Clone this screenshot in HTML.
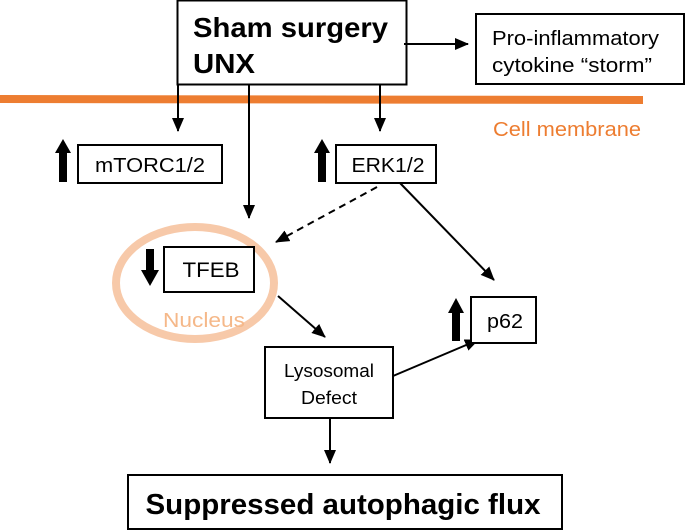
<!DOCTYPE html>
<html><head><style>
body{margin:0;background:#fff;}
svg{display:block;font-family:"Liberation Sans",Arial,sans-serif;}
</style></head><body>
<svg width="685" height="530" viewBox="0 0 685 530">
<defs>
<marker id="b" markerWidth="14" markerHeight="12" refX="13" refY="6" orient="auto" markerUnits="userSpaceOnUse"><path d="M0,0 L14,6 L0,12 z" fill="#000"/></marker>
</defs>
<line x1="0" y1="99" x2="643" y2="100" stroke="#ed7d31" stroke-width="8"/>
<text x="493" y="136" font-size="20" fill="#ed7d31" textLength="148" lengthAdjust="spacingAndGlyphs">Cell membrane</text>
<rect x="177.5" y="0.5" width="229" height="84" fill="#fff" stroke="#000" stroke-width="2"/>
<text x="193" y="37" font-size="28" font-weight="bold" textLength="195" lengthAdjust="spacingAndGlyphs">Sham surgery</text>
<text x="193" y="73" font-size="28" font-weight="bold" textLength="62" lengthAdjust="spacingAndGlyphs">UNX</text>
<rect x="476" y="14" width="208" height="70" fill="#fff" stroke="#000" stroke-width="2"/>
<text x="492" y="45" font-size="20" textLength="167" lengthAdjust="spacingAndGlyphs">Pro-inflammatory</text>
<text x="492" y="72" font-size="20" textLength="160" lengthAdjust="spacingAndGlyphs">cytokine “storm”</text>
<line x1="404" y1="44" x2="468" y2="44" stroke="#000" stroke-width="2" marker-end="url(#b)"/>
<line x1="178" y1="85" x2="178" y2="131" stroke="#000" stroke-width="2" marker-end="url(#b)"/>
<line x1="380" y1="85" x2="380" y2="131" stroke="#000" stroke-width="2" marker-end="url(#b)"/>
<line x1="249" y1="85" x2="249" y2="218" stroke="#000" stroke-width="2" marker-end="url(#b)"/>
<rect x="78" y="145" width="144" height="38" fill="#fff" stroke="#000" stroke-width="2"/>
<text x="150" y="172" font-size="20" text-anchor="middle" textLength="110" lengthAdjust="spacingAndGlyphs">mTORC1/2</text>
<path d="M59,182 V153 H55 L63,139 L71,153 H67 V182 z" fill="#000"/>
<rect x="336" y="145" width="100" height="38" fill="#fff" stroke="#000" stroke-width="2"/>
<text x="388" y="172" font-size="20" text-anchor="middle" textLength="73" lengthAdjust="spacingAndGlyphs">ERK1/2</text>
<path d="M318,182 V153 H314 L322,139 L330,153 H326 V182 z" fill="#000"/>
<line x1="377" y1="187" x2="276" y2="242" stroke="#000" stroke-width="2" stroke-dasharray="7,5" marker-end="url(#b)"/>
<line x1="400" y1="183" x2="494" y2="280" stroke="#000" stroke-width="2" marker-end="url(#b)"/>
<ellipse cx="195" cy="283" rx="79" ry="56" fill="none" stroke="#f7c9a9" stroke-width="8"/>
<rect x="164" y="247" width="90" height="45" fill="#fff" stroke="#000" stroke-width="2"/>
<text x="211" y="277" font-size="21" text-anchor="middle" textLength="57" lengthAdjust="spacingAndGlyphs">TFEB</text>
<path d="M146,249 V270 H141 L150,286 L159,270 H154 V249 z" fill="#000"/>
<text x="204" y="327" font-size="20" fill="#f5b889" text-anchor="middle" textLength="82" lengthAdjust="spacingAndGlyphs">Nucleus</text>
<line x1="278" y1="296" x2="325" y2="337" stroke="#000" stroke-width="2" marker-end="url(#b)"/>
<rect x="265" y="347" width="128" height="71" fill="#fff" stroke="#000" stroke-width="2"/>
<text x="329" y="377" font-size="18" text-anchor="middle" textLength="90" lengthAdjust="spacingAndGlyphs">Lysosomal</text>
<text x="329" y="404" font-size="18" text-anchor="middle" textLength="56" lengthAdjust="spacingAndGlyphs">Defect</text>
<line x1="393" y1="376" x2="478" y2="340" stroke="#000" stroke-width="2" marker-end="url(#b)"/>
<rect x="471" y="297" width="65" height="46" fill="#fff" stroke="#000" stroke-width="2"/>
<text x="505" y="328" font-size="20" text-anchor="middle" textLength="36" lengthAdjust="spacingAndGlyphs">p62</text>
<path d="M452,341 V313 H448 L456,298 L464,313 H460 V341 z" fill="#000"/>
<line x1="330" y1="418" x2="330" y2="463" stroke="#000" stroke-width="2" marker-end="url(#b)"/>
<rect x="128" y="475" width="434" height="54" fill="#fff" stroke="#000" stroke-width="2"/>
<text x="343" y="514" font-size="29" font-weight="bold" text-anchor="middle" textLength="395" lengthAdjust="spacingAndGlyphs">Suppressed autophagic flux</text>
</svg>
</body></html>
